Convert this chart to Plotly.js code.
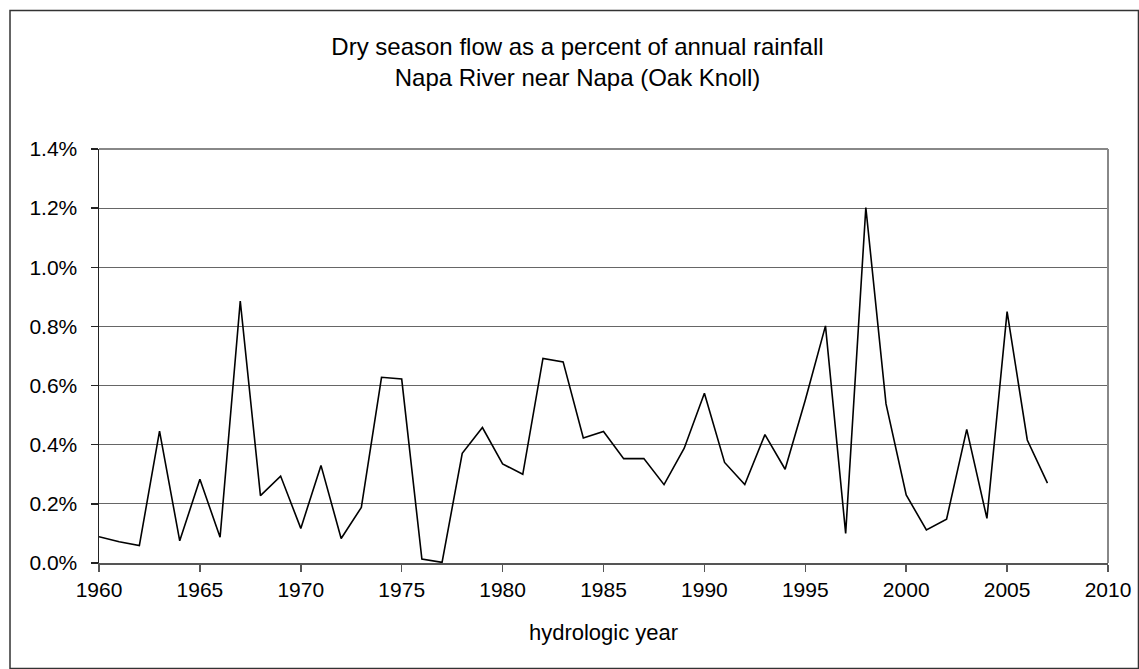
<!DOCTYPE html>
<html>
<head>
<meta charset="utf-8">
<script src="https://cdn.plot.ly/plotly-3.0.1.min.js"></script>
<style>
  html, body { margin: 0; padding: 0; background: #fff; }
  #chart { width: 1139px; height: 669px; }
</style>
</head>
<body>
<div id="chart"></div>
<script>
// hydrologic years
const years = [1960, 1961, 1962, 1963, 1964, 1965, 1966, 1967, 1968, 1969,
               1970, 1971, 1972, 1973, 1974, 1975, 1976, 1977, 1978, 1979,
               1980, 1981, 1982, 1983, 1984, 1985, 1986, 1987, 1988, 1989,
               1990, 1991, 1992, 1993, 1994, 1995, 1996, 1997, 1998, 1999,
               2000, 2001, 2002, 2003, 2004, 2005, 2006, 2007];
// dry season flow as percent of annual rainfall (%)
const pctFlow = [0.089, 0.072, 0.059, 0.446, 0.075, 0.283, 0.087, 0.886, 0.228, 0.294,
                 0.117, 0.330, 0.083, 0.188, 0.628, 0.622, 0.013, 0.002, 0.371, 0.458,
                 0.335, 0.300, 0.692, 0.680, 0.423, 0.445, 0.353, 0.353, 0.265, 0.388,
                 0.574, 0.340, 0.265, 0.434, 0.317, 0.551, 0.802, 0.100, 1.202, 0.538,
                 0.230, 0.112, 0.148, 0.452, 0.151, 0.850, 0.416, 0.270];
const xTicks = [1960, 1965, 1970, 1975, 1980, 1985, 1990, 1995, 2000, 2005, 2010];
const yTicks = [0, 0.2, 0.4, 0.6, 0.8, 1.0, 1.2, 1.4];
const yTickLabels = ['0.0%', '0.2%', '0.4%', '0.6%', '0.8%', '1.0%', '1.2%', '1.4%'];

const FONT = 'Liberation Sans, Arial, sans-serif';

const trace = {
  x: years,
  y: pctFlow,
  type: 'scatter',
  mode: 'lines',
  line: { color: '#000000', width: 1.6 },
  hoverinfo: 'x+y'
};

const layout = {
  width: 1139,
  height: 669,
  margin: { l: 99, r: 31, t: 149, b: 106 },
  paper_bgcolor: '#ffffff',
  plot_bgcolor: '#ffffff',
  showlegend: false,
  font: { family: FONT, color: '#000000', size: 21 },
  title: {
    text: 'Dry season flow as a percent of annual rainfall<br>Napa River near Napa (Oak Knoll)',
    font: { family: FONT, size: 24, color: '#000000' },
    x: 0.507, xref: 'container', xanchor: 'center',
    y: 0.918, yref: 'container', yanchor: 'middle'
  },
  xaxis: {
    range: [1960, 2010],
    tickmode: 'array',
    tickvals: xTicks,
    ticktext: xTicks.map(String),
    ticks: 'outside',
    ticklen: 7,
    tickwidth: 1.5,
    tickcolor: '#555555',
    showline: true,
    linecolor: '#555555',
    linewidth: 2,
    showgrid: false,
    zeroline: false,
    tickfont: { family: FONT, size: 21, color: '#000000' },
    title: { text: 'hydrologic year', font: { family: FONT, size: 22, color: '#000000' }, standoff: 24 }
  },
  yaxis: {
    range: [0, 1.4],
    tickmode: 'array',
    tickvals: yTicks,
    ticktext: yTickLabels,
    ticks: 'outside',
    ticklen: 7,
    tickwidth: 1.5,
    tickcolor: '#222222',
    showline: true,
    linecolor: '#222222',
    linewidth: 1.5,
    showgrid: true,
    gridcolor: '#666666',
    gridwidth: 1,
    zeroline: false,
    ticklabelstandoff: 9,
    tickfont: { family: FONT, size: 21, color: '#000000' }
  },
  shapes: [
    // plot area right/top border
    { type: 'line', xref: 'paper', yref: 'paper', x0: 1, x1: 1, y0: 0, y1: 1,
      line: { color: '#888888', width: 2 } },
    { type: 'line', xref: 'paper', yref: 'paper', x0: 0, x1: 1, y0: 1, y1: 1,
      line: { color: '#888888', width: 2 } },
    // chart outer border
    { type: 'rect', xref: 'paper', yref: 'paper', x0: -0.0882, x1: 1.0302, y0: -0.2548, y1: 1.3345,
      line: { color: '#333333', width: 1.5 }, fillcolor: 'rgba(0,0,0,0)' }
  ]
};

Plotly.newPlot('chart', [trace], layout, { displayModeBar: false, staticPlot: true });
</script>
</body>
</html>
